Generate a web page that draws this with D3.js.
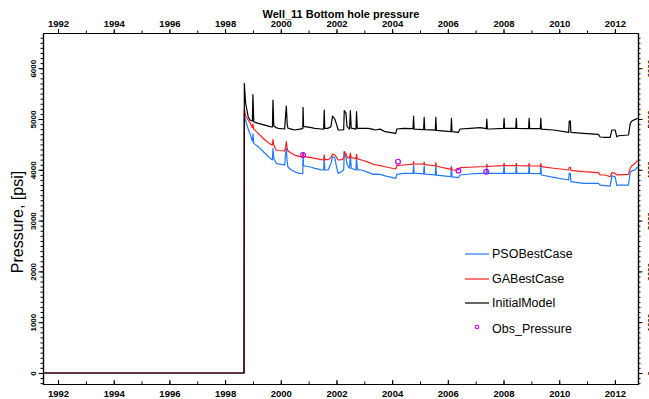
<!DOCTYPE html>
<html><head><meta charset="utf-8">
<script src="https://cdn.jsdelivr.net/npm/d3@7"></script>
<style>body{margin:0;background:#fff;overflow:hidden} svg{display:block;font-family:"Liberation Sans",Arial,sans-serif}</style>
</head><body><svg id="c" width="649" height="399"></svg>
<script>
// ---------- data (decimal years, psi) ----------
const years = [1991.46,1998.68,1998.69,1998.74,1998.83,1998.89,1998.98,1999.00,1999.03,1999.19,1999.43,1999.61,1999.70,1999.72,1999.75,1999.84,1999.90,2000.14,2000.17,2000.20,2000.23,2000.26,2000.38,2000.50,2000.68,2000.79,2000.80,2000.82,2000.86,2001.10,2001.22,2001.46,2001.54,2001.56,2001.58,2001.70,2001.80,2001.86,2001.94,2002.00,2002.06,2002.18,2002.26,2002.28,2002.34,2002.38,2002.47,2002.50,2002.53,2002.70,2002.72,2002.75,2002.90,2003.14,2003.32,2003.39,2003.57,2003.75,2004.13,2004.17,2004.41,2004.75,2004.77,2004.79,2005.13,2005.15,2005.17,2005.55,2005.57,2005.59,2006.11,2006.13,2006.15,2006.38,2006.44,2006.80,2007.16,2007.38,2007.40,2007.42,2007.52,2008.00,2008.02,2008.04,2008.44,2008.46,2008.48,2008.90,2008.92,2008.94,2009.32,2009.34,2009.36,2009.80,2010.34,2010.36,2010.40,2010.42,2010.87,2011.41,2011.47,2011.65,2011.83,2011.89,2012.01,2012.07,2012.13,2012.49,2012.55,2012.61,2012.73,2012.82];
const initialModel = [0,0,5700,5300,5045,4980,4960,5480,4946,4915,4880,4850,4845,5374,4860,4830,4817,4803,5050,5256,4900,4817,4800,4783,4800,4810,5230,4850,4850,4829,4815,4803,4800,5177,4817,4817,4850,5059,5000,4900,4783,4783,4790,5163,5120,4850,4800,5163,4820,4800,5144,4817,4817,4817,4797,4783,4800,4750,4718,4803,4817,4810,5059,4800,4790,5033,4790,4780,5033,4775,4750,5013,4750,4737,4803,4817,4829,4810,5000,4803,4803,4817,5013,4817,4815,5013,4815,4812,5013,4812,4810,5013,4800,4783,4737,4960,4960,4737,4718,4698,4646,4640,4639,4783,4783,4650,4670,4685,4915,4960,4993,5010];
const gaBestCase = [0,0,5200,5060,4980,4930,4830,4900,4800,4718,4587,4510,4488,4600,4480,4390,4380,4370,4450,4553,4420,4370,4325,4290,4258,4255,4330,4270,4258,4240,4226,4200,4193,4292,4200,4200,4240,4311,4290,4250,4193,4200,4220,4357,4320,4250,4230,4330,4240,4220,4300,4220,4193,4150,4108,4100,4081,4060,4016,4081,4094,4110,4160,4115,4110,4150,4100,4080,4140,4070,4009,4060,4000,3996,4042,4050,4060,4062,4110,4062,4070,4081,4127,4081,4081,4127,4081,4078,4127,4078,4075,4127,4062,4030,3996,4050,4050,3990,3963,3943,3898,3898,3864,3943,3930,3898,3900,3910,4029,4080,4127,4193];
const psoBestCase = [0,0,5100,4960,4800,4718,4560,4710,4520,4455,4325,4230,4193,4423,4220,4127,4115,4095,4300,4423,4150,4050,3996,3960,3930,3925,4325,4082,4075,4050,4029,4000,3996,4258,4000,3996,4120,4258,4240,4060,3930,3960,4000,4357,4250,4100,4030,4300,4030,3996,4240,4000,3996,3950,3910,3915,3910,3880,3832,3910,3930,3930,4094,3935,3920,4080,3915,3900,4094,3895,3864,4060,3860,3845,3898,3917,3930,3930,4060,3930,3930,3930,4094,3930,3930,4094,3930,3928,4094,3928,3925,4094,3898,3850,3799,3930,3930,3766,3732,3732,3700,3690,3680,3880,3860,3690,3700,3700,3950,3980,4000,4060];
const obsYears = [2000.80, 2004.21, 2006.38, 2007.38];
const obsPressure = [4290, 4160, 3980, 3960];
const xTickYears = [1992,1994,1996,1998,2000,2002,2004,2006,2008,2010,2012];
const yTickValues = [0,1000,2000,3000,4000,5000,6000];
const legendNames = ["PSOBestCase","GABestCase","InitialModel","Obs_Pressure"];
const titleText = "Well_11 Bottom hole pressure";
const yLabelText = "Pressure, [psi]";

// ---------- layout ----------
const L=43, R=638, T=33, B=384;
const svg = d3.select("#c");
const x = d3.scaleLinear().domain([1991.46, 2012.83]).range([L, R]);
const y = d3.scaleLinear().domain([-217, 6693]).range([B, T]);
const colors = {pso:"#1f78ff", ga:"#ff1f1f", init:"#000000", obs:"#b800ff"};

svg.append("defs").append("clipPath").attr("id","clip")
  .append("rect").attr("x",L).attr("y",T).attr("width",R-L).attr("height",B-T);

// minor ticks
const minorYears = d3.range(1992, 2013);
const minorY = d3.range(-200, 6700, 100);

function styleAxis(g){
  g.selectAll("path.domain").attr("stroke","#000").attr("stroke-width",1.2);
  g.selectAll(".tick line").attr("stroke","#000");
}

// bottom
svg.append("g").attr("transform",`translate(0,${B})`)
  .call(d3.axisBottom(x).tickValues(minorYears).tickSize(-2.5).tickSizeOuter(0).tickFormat(""))
  .call(styleAxis);
svg.append("g").attr("transform",`translate(0,${B})`)
  .call(d3.axisBottom(x).tickValues(xTickYears).tickSize(-4).tickSizeOuter(0).tickPadding(6.5).tickFormat(d3.format("d")))
  .call(styleAxis)
  .call(g=>g.selectAll("text").attr("font-size","9.5px").attr("font-weight","bold").attr("font-family","Liberation Sans, Arial, sans-serif").attr("fill","#000"));
// top
svg.append("g").attr("transform",`translate(0,${T})`)
  .call(d3.axisTop(x).tickValues(minorYears).tickSize(2.5).tickSizeOuter(0).tickFormat(""))
  .call(styleAxis);
svg.append("g").attr("transform",`translate(0,${T})`)
  .call(d3.axisTop(x).tickValues(xTickYears).tickSize(4).tickSizeOuter(0).tickPadding(1.8).tickFormat(d3.format("d")))
  .call(styleAxis)
  .call(g=>g.selectAll("text").attr("font-size","9.5px").attr("font-weight","bold").attr("font-family","Liberation Sans, Arial, sans-serif").attr("fill","#000"));

function rotLabels(g, dx){
  g.selectAll("text").attr("x",null).attr("y",null).attr("dy","0.35em")
   .attr("text-anchor","middle")
   .attr("transform",`translate(${dx},0) rotate(-90)`)
   .attr("font-size","8px").attr("font-weight","bold")
   .attr("font-family","Liberation Sans, Arial, sans-serif").attr("fill","#000");
}
// left
svg.append("g").attr("transform",`translate(${L},0)`)
  .call(d3.axisLeft(y).tickValues(minorY).tickSize(2.5).tickSizeOuter(0).tickFormat(""))
  .call(styleAxis);
svg.append("g").attr("transform",`translate(${L},0)`)
  .call(d3.axisLeft(y).tickValues(yTickValues).tickSize(4.5).tickSizeOuter(0).tickFormat(d3.format("d")))
  .call(styleAxis).call(g=>rotLabels(g,-10));
// right
svg.append("g").attr("transform",`translate(${R},0)`)
  .call(d3.axisRight(y).tickValues(minorY).tickSize(2.5).tickSizeOuter(0).tickFormat(""))
  .call(styleAxis);
svg.append("g").attr("transform",`translate(${R},0)`)
  .call(d3.axisRight(y).tickValues(yTickValues).tickSize(4.5).tickSizeOuter(0).tickFormat(d3.format("d")))
  .call(styleAxis).call(g=>rotLabels(g,12));

// lines
const line = d3.line().x(d=>x(d[0])).y(d=>y(d[1]));
const plot = svg.append("g").attr("clip-path","url(#clip)");
const series = [
  {vals: psoBestCase, c: colors.pso},
  {vals: gaBestCase, c: colors.ga},
  {vals: initialModel, c: colors.init}
];
series.forEach(s=>{
  plot.append("path").datum(d3.zip(years, s.vals))
    .attr("d", line).attr("fill","none").attr("stroke", s.c)
    .attr("stroke-width",1.2).attr("stroke-linejoin","round");
});
plot.selectAll("circle.obs").data(d3.zip(obsYears, obsPressure)).enter()
  .append("circle").attr("class","obs")
  .attr("cx",d=>x(d[0])).attr("cy",d=>y(d[1])).attr("r",2.4)
  .attr("fill","none").attr("stroke",colors.obs).attr("stroke-width",1.2);

// title & y label
svg.append("text").attr("x",341).attr("y",17.5).attr("text-anchor","middle")
  .attr("font-size","11px").attr("font-weight","bold").text(titleText);
svg.append("text").attr("transform","translate(22.5,222) rotate(-90)")
  .attr("text-anchor","middle").attr("font-size","16px").text(yLabelText);

// legend
const legY = [254, 279, 303, 329];
const legColors = [colors.pso, colors.ga, colors.init, colors.obs];
const leg = svg.append("g");
legendNames.forEach((n,i)=>{
  if(i<3){
    leg.append("line").attr("x1",465).attr("x2",489).attr("y1",legY[i]).attr("y2",legY[i])
      .attr("stroke",legColors[i]).attr("stroke-width",1.2);
  } else {
    leg.append("circle").attr("cx",477).attr("cy",legY[i]-2).attr("r",1.8)
      .attr("fill","none").attr("stroke",legColors[i]).attr("stroke-width",1.1);
  }
  leg.append("text").attr("x",492).attr("y",legY[i]).attr("dy","0.35em")
    .attr("font-size","12.5px").attr("fill","#000").text(n);
});
</script></body></html>
